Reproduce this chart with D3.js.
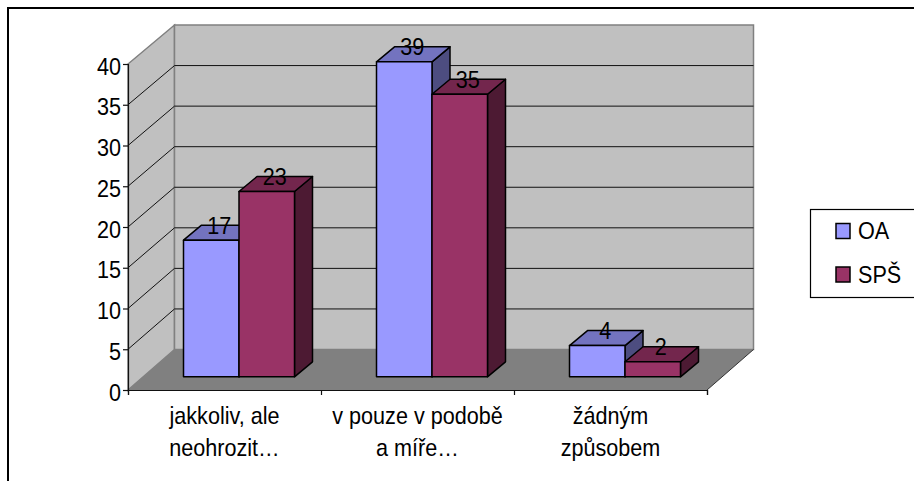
<!DOCTYPE html>
<html><head><meta charset="utf-8">
<script src="https://cdn.jsdelivr.net/npm/d3@7"></script>
<style>html,body{margin:0;padding:0;background:#fff}svg{display:block}
text{font-family:"Liberation Sans",Arial,sans-serif;font-size:24px;fill:#000}</style>
</head><body><svg id="c" width="914" height="481"></svg>
<script>
const categories = ["jakkoliv, ale|neohrozit…", "v pouze v podobě|a míře…", "žádným|způsobem"];
const seriesNames = ["OA", "SPŠ"];
const valuesOA = [17, 39, 4];
const valuesSPS = [23, 35, 2];
const axisTicks = [0, 5, 10, 15, 20, 25, 30, 35, 40];
const seriesColors = ["#9999FF", "#993366"];
const topColors = ["#7373BF", "#73264D"];
const sideColors = ["#4D4D80", "#4D1A33"];

const svg = d3.select("#c");
const xL = 128, xR = 707, dX = 46.5, squeeze = 0.9;
const yF = d3.scaleLinear().domain([0, 40]).range([390, 64]);
const yB = d3.scaleLinear().domain([0, 40]).range([349.5, 25]);
const yBar = d3.scaleLinear().domain([0, 40]).range([378, 53.7]);
const baseY = 376.8, depthX = 18, depthY = 15;
const x0 = d3.scaleBand().domain(categories).range([xL, xR]);
const x1 = d3.scaleBand().domain(seriesNames).range([55.5, 166.5]);
const path = p => "M" + p.map(q => q.join(",")).join("L") + "Z";
const label = (x, y, t, anchor) => svg.append("text")
  .attr("transform", `translate(${x},${y}) scale(${squeeze},1)`)
  .attr("text-anchor", anchor || "middle").text(t);

// frame
svg.append("rect").attr("x", 8).attr("y", 8).attr("width", 930).attr("height", 500)
  .attr("fill", "#fff").attr("stroke", "#000").attr("stroke-width", 2);

// walls and floor
svg.append("path").attr("d", path([[xL, yF(0)], [xL, yF(40)], [xL + dX, yB(40)], [xL + dX, yB(0)]]))
  .attr("fill", "#C0C0C0").attr("stroke", "#808080").attr("stroke-width", 1.5);
svg.append("path").attr("d", path([[xL + dX, yB(0)], [xL + dX, yB(40)], [xR + dX, yB(40)], [xR + dX, yB(0)]]))
  .attr("fill", "#C0C0C0").attr("stroke", "#808080").attr("stroke-width", 1.5);

// gridlines
const grid = svg.append("g").attr("stroke", "#111").attr("stroke-width", 1).attr("fill", "none");
axisTicks.filter(t => t > 0 && t < 40).forEach(t => {
  grid.append("path").attr("d", `M${xL},${yF(t)}L${xL + dX},${yB(t)}L${xR + dX},${yB(t)}`);
});

svg.append("path").attr("d", path([[xL, yF(0)], [xL + dX, yB(0)], [xR + dX, yB(0)], [xR, yF(0)]]))
  .attr("fill", "#808080");
svg.append("path").attr("d", `M${xR},${yF(0)}L${xR + dX},${yB(0)}`).attr("stroke", "#333").attr("fill", "none");

// axes
const yAxis = svg.append("g").attr("transform", `translate(${xL},0)`)
  .call(d3.axisLeft(yF).tickValues(axisTicks).tickSize(5));
yAxis.selectAll("text")
  .attr("x", null).attr("dy", null)
  .attr("transform", `translate(-7,10) scale(${squeeze},1)`)
  .style("font-family", '"Liberation Sans",Arial,sans-serif').style("font-size", "24px");
const xLin = d3.scaleLinear().domain([0, categories.length]).range([xL, xR]);
const xAxis = svg.append("g").attr("transform", `translate(0,${yF(0)})`)
  .call(d3.axisBottom(xLin).ticks(3).tickFormat("").tickSize(5));
[yAxis, xAxis].forEach(a => a.selectAll("path,line").attr("stroke", "#111").attr("stroke-width", 1.2));

// category labels
categories.forEach(c => {
  const cx = x0(c) + x0.bandwidth() / 2;
  c.split("|").forEach((line, i) => label(cx, 424 + i * 32, line));
});

// bars
const bars = svg.append("g").attr("stroke", "#000").attr("stroke-width", 1.5).attr("stroke-linejoin", "round");
const allValues = [valuesOA, valuesSPS];
const labels = [];
categories.forEach((c, ci) => {
  seriesNames.forEach((s, si) => {
    const v = allValues[si][ci];
    const a = x0(c) + x1(s), b = a + x1.bandwidth(), t = yBar(v);
    bars.append("path").attr("fill", sideColors[si])
      .attr("d", path([[b, baseY], [b, t], [b + depthX, t - depthY], [b + depthX, baseY - depthY]]));
    bars.append("path").attr("fill", topColors[si])
      .attr("d", path([[a, t], [a + depthX, t - depthY], [b + depthX, t - depthY], [b, t]]));
    bars.append("path").attr("fill", seriesColors[si])
      .attr("d", path([[a, baseY], [a, t], [b, t], [b, baseY]]));
    labels.push({ v, x: (a + b) / 2 + depthX / 2 - 1, y: t - depthY + 8.5 });
  });
});
labels.forEach(l => label(l.x, l.y, l.v));

// legend
svg.append("rect").attr("x", 810.5).attr("y", 209.5).attr("width", 120).attr("height", 88)
  .attr("fill", "#fff").attr("stroke", "#000").attr("stroke-width", 1.2);
seriesNames.forEach((s, i) => {
  const y = 223.5 + i * 43.5;
  svg.append("rect").attr("x", 836).attr("y", y).attr("width", 14).attr("height", 15)
    .attr("fill", seriesColors[i]).attr("stroke", "#000").attr("stroke-width", 1.5);
  label(858, y + 15.5, s, "start");
});
</script></body></html>
